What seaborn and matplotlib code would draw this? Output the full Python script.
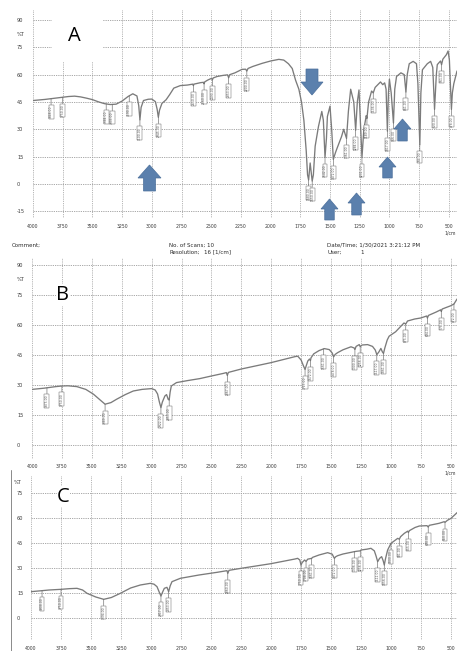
import numpy as np
import pandas as pd
import matplotlib
matplotlib.use("Agg")
import matplotlib.pyplot as plt
import seaborn as sns
from matplotlib.patches import Polygon, Rectangle

# ---------------- spectra (wavenumber in 1/cm, %T) ----------------
a_wn = [4000, 3900, 3850, 3800, 3750, 3700, 3650, 3600, 3550, 3500,
        3450, 3400, 3350, 3300, 3250, 3200, 3160, 3125, 3110, 3100,
        3090, 3070, 3030, 3000, 2970, 2955, 2945, 2935, 2915, 2880,
        2850, 2815, 2760, 2700, 2655, 2650, 2645, 2590, 2565, 2560,
        2555, 2530, 2497, 2490, 2483, 2450, 2400, 2362, 2353, 2344,
        2300, 2241, 2210, 2200, 2190, 2150, 2072, 2000, 1931, 1889,
        1850, 1818, 1790, 1762, 1740, 1720, 1700, 1689, 1680, 1667,
        1650, 1640, 1625, 1597, 1569, 1556, 1542, 1530, 1522, 1500,
        1486, 1472, 1455, 1444, 1420, 1403, 1385, 1361, 1345, 1326,
        1300, 1284, 1270, 1256, 1245, 1231, 1215, 1195, 1189, 1175,
        1150, 1136, 1120, 1097, 1075, 1056, 1040, 1028, 1017, 1008,
        1000, 985, 966, 955, 940, 903, 875, 861, 850, 833,
        800, 772, 760, 744, 735, 722, 681, 653, 635, 620,
        605, 597, 570, 561, 550, 520, 506, 495, 478, 470,
        458, 431]
a_t = [45.8, 46.4, 46.8, 47.2, 47.6, 48.0, 48.2, 47.8, 47.1, 46.3,
       45.1, 44.1, 43.6, 43.8, 45.5, 48.0, 49.5, 48.3, 43.0, 35.2,
       42.0, 45.8, 46.5, 46.6, 45.2, 41.0, 36.6, 40.5, 44.2, 46.2,
       49.0, 52.6, 54.0, 54.3, 54.8, 54.0, 54.8, 55.6, 55.8, 55.0,
       56.0, 57.0, 58.0, 57.2, 58.2, 59.0, 59.6, 59.9, 58.3, 60.0,
       61.0, 62.9, 63.0, 62.0, 63.4, 64.5, 66.2, 67.5, 68.4, 68.0,
       66.0, 63.4, 57.0, 52.0, 45.0, 35.0, 18.0, 5.0, 2.2, 11.5,
       1.6, 5.0, 20.7, 31.6, 39.8, 35.0, 14.6, 25.0, 37.0, 42.7,
       30.0, 13.5, 17.0, 19.0, 23.0, 26.0, 30.0, 25.0, 40.0, 52.0,
       45.0, 29.5, 45.0, 51.6, 35.0, 14.5, 30.0, 37.5, 36.0, 45.0,
       51.0, 50.0, 53.0, 54.5, 56.0, 54.5, 55.5, 52.0, 29.0, 50.0,
       57.5, 50.0, 33.5, 52.0, 59.0, 61.0, 60.0, 50.5, 60.0, 66.0,
       67.3, 66.0, 55.0, 21.5, 50.0, 62.7, 66.0, 67.3, 64.0, 41.0,
       60.0, 65.5, 67.5, 65.5, 68.5, 71.0, 73.0, 68.0, 41.0, 50.0,
       55.0, 62.0]
a_peaks = [3848, 3750, 3384, 3333, 3190, 3100, 2945, 2650, 2560, 2490,
           2353, 2200, 1680, 1650, 1542, 1472, 1361, 1284, 1231, 1189,
           1136, 1017, 966, 861, 744, 620, 561, 478]

b_wn = [4000, 3900, 3875, 3800, 3750, 3700, 3625, 3550, 3486, 3430,
        3389, 3340, 3292, 3220, 3153, 3080, 3000, 2970, 2950, 2935,
        2922, 2910, 2889, 2875, 2861, 2853, 2845, 2835, 2792, 2700,
        2597, 2500, 2400, 2375, 2367, 2358, 2250, 2000, 1800, 1778,
        1750, 1730, 1717, 1705, 1694, 1680, 1672, 1667, 1644, 1600,
        1556, 1514, 1490, 1478, 1465, 1444, 1400, 1333, 1306, 1300,
        1290, 1264, 1256, 1240, 1194, 1153, 1130, 1117, 1100, 1083,
        1070, 1061, 1050, 1030, 1014, 960, 917, 890, 875, 860,
        800, 750, 700, 694, 685, 620, 583, 578, 570, 500,
        472, 446]
b_t = [27.8, 28.4, 28.6, 29.2, 29.5, 29.6, 29.2, 27.8, 25.4, 22.5,
       20.4, 21.2, 22.9, 25.2, 27.0, 27.8, 28.2, 27.5, 25.5, 21.5,
       18.7, 21.5, 24.5, 25.2, 22.8, 22.5, 26.5, 29.5, 31.2, 32.2,
       33.2, 34.5, 35.8, 36.2, 34.8, 36.3, 38.0, 41.2, 44.2, 44.4,
       42.5, 39.5, 37.8, 40.0, 42.0, 43.0, 42.2, 43.6, 45.6, 47.2,
       48.2, 47.7, 46.0, 44.1, 45.3, 46.2, 47.6, 49.1, 48.5, 47.8,
       49.3, 50.2, 49.2, 50.0, 50.2, 49.3, 47.5, 45.2, 46.5, 48.3,
       46.5, 45.8, 48.5, 52.5, 54.4, 56.6, 59.3, 61.0, 60.5, 62.0,
       63.0, 63.5, 64.5, 63.5, 64.8, 66.5, 67.6, 66.8, 68.0, 69.6,
       70.5, 73.0]
b_peaks = [3875, 3750, 3389, 2922, 2853, 2367, 1717, 1672, 1561, 1478,
           1300, 1256, 1117, 1061, 875, 694, 578, 472]

c_wn = [4000, 3908, 3850, 3750, 3680, 3617, 3570, 3533, 3460, 3394,
        3330, 3256, 3170, 3089, 3006, 2975, 2950, 2930, 2917, 2905,
        2889, 2867, 2853, 2840, 2825, 2756, 2600, 2450, 2367, 2360,
        2350, 2250, 2000, 1800, 1778, 1760, 1750, 1740, 1720, 1708,
        1694, 1661, 1653, 1600, 1528, 1490, 1472, 1460, 1444, 1400,
        1306, 1290, 1256, 1250, 1200, 1167, 1139, 1125, 1111, 1095,
        1078, 1065, 1056, 1045, 1028, 1000, 944, 931, 920, 889,
        861, 855, 847, 800, 764, 700, 690, 681, 600, 556,
        550, 530, 500, 470, 448]
c_t = [16.0, 16.6, 17.0, 17.4, 17.8, 18.0, 17.0, 15.0, 12.8, 11.4,
       12.5, 15.0, 18.2, 20.0, 21.0, 20.5, 19.0, 15.5, 13.4, 15.5,
       18.0, 18.6, 16.0, 19.5, 22.0, 24.0, 26.0, 27.6, 28.6, 27.0,
       28.8, 30.0, 32.8, 35.6, 36.0, 35.0, 32.0, 33.5, 35.0, 34.2,
       35.5, 36.0, 36.6, 38.0, 39.4, 38.5, 36.0, 37.0, 37.6, 38.6,
       40.0, 40.2, 40.5, 41.0, 41.5, 42.0, 40.5, 37.5, 34.0, 36.0,
       37.0, 34.5, 32.0, 36.0, 41.0, 45.0, 48.0, 47.5, 49.0, 51.0,
       52.3, 51.5, 52.6, 54.5, 55.4, 55.6, 54.8, 55.8, 57.0, 58.0,
       57.6, 58.8, 60.0, 62.0, 63.5]
c_peaks = [3908, 3750, 3394, 2917, 2853, 2360, 1750, 1708, 1661, 1472,
           1306, 1256, 1111, 1056, 1000, 931, 855, 690, 550]

x_ticks = [4000, 3750, 3500, 3250, 3000, 2750, 2500, 2250, 2000, 1750,
           1500, 1250, 1000, 750, 500]
a_yticks = [90, 75, 60, 45, 30, 15, 0, -15]
b_yticks = [90, 75, 60, 45, 30, 15, 0]
c_yticks = [75, 60, 45, 30, 15, 0]

# ---------------- figure ----------------
W, H = 457, 651
sns.set_style("white")
plt.rcParams["font.family"] = ["DejaVu Sans"]
fig = plt.figure(figsize=(W / 100, H / 100), dpi=100)
fig.patch.set_facecolor("white")

LINE = "#7b7b7b"
GRID = "#9c9c9c"
TXT = "#3a3a3a"


def fx(x):
    return x / W


def fy(y):
    return 1 - y / H


def make_panel(left, top, bottom, xright, ylim, yticks, xpad):
    ax = fig.add_axes([fx(left), fy(bottom), fx(W) - fx(left), (bottom - top) / H])
    ax.set_xlim(4000, xright)
    ax.set_ylim(*ylim)
    for s in ax.spines.values():
        s.set_visible(False)
    for xv in x_ticks:
        ax.axvline(xv, color=GRID, lw=0.6, ls=(0, (1, 1.2)), zorder=1)
    for yv in yticks:
        ax.axhline(yv, color=GRID, lw=0.6, ls=(0, (1.5, 1.2)), zorder=1)
    ax.set_xticks(x_ticks)
    ax.set_xticklabels([str(v) for v in x_ticks], fontsize=3.3, color=TXT)
    ax.set_yticks(yticks)
    ax.set_yticklabels([str(v) for v in yticks], fontsize=3.6, color=TXT,
                       ha="left")
    ax.tick_params(axis="x", length=0, pad=xpad)
    ax.tick_params(axis="y", length=0, pad=(left - 17) * 0.72)
    ax.set_xlabel("")
    ax.set_ylabel("")
    return ax


def draw_trace(ax, wn, t, peaks):
    df = pd.DataFrame({"wn": wn, "t": t})
    sns.lineplot(data=df, x="wn", y="t", ax=ax, color=LINE, lw=0.95,
                 sort=False, estimator=None, zorder=3)
    ax.set_xlabel("")
    ax.set_ylabel("")
    wn_r = np.asarray(wn)[::-1]
    t_r = np.asarray(t)[::-1]
    for p in peaks:
        y0 = np.interp(p, wn_r, t_r)
        ax.annotate(f"{p:.2f}", xy=(p, y0), xytext=(0, -5),
                    textcoords="offset points", rotation=90, fontsize=2.2,
                    color="#555555", ha="center", va="top", zorder=4,
                    bbox=dict(boxstyle="square,pad=0.15", fc="white",
                              ec="#6a6a6a", lw=0.35),
                    arrowprops=dict(arrowstyle="-", color="#6a6a6a", lw=0.45,
                                    shrinkA=0, shrinkB=0))


# Panel A
axA = make_panel(33, 10, 218, 431, (-18.7, 95.5), a_yticks, 4.0)
axA.add_patch(Rectangle((fx(52), fy(62)), fx(51), 52 / H,
                        transform=fig.transFigure, fc="white", ec="none",
                        zorder=2))
draw_trace(axA, a_wn, a_t, a_peaks)
axA.text(-16 / 424, 82.3, "%T", transform=axA.get_yaxis_transform(),
         fontsize=3.6, color=TXT, ha="left", va="center")

# Panel B
axB = make_panel(32, 258, 459, 446.5, (-7, 93.5), b_yticks, 3.4)
draw_trace(axB, b_wn, b_t, b_peaks)
axB.text(-15 / 425, 82.5, "%T", transform=axB.get_yaxis_transform(),
         fontsize=3.6, color=TXT, ha="left", va="center")

# Panel C
axC = make_panel(31, 476, 640, 450, (-13, 85.4), c_yticks, 4.0)
draw_trace(axC, c_wn, c_t, c_peaks)
axC.text(-17 / 426, 81.6, "%T", transform=axC.get_yaxis_transform(),
         fontsize=3.6, color=TXT, ha="left", va="center")

# Panel letters
fig.text(fx(74), fy(36), "A", fontsize=14.5, family="Open Sans",
         ha="center", va="center", color="black")
fig.text(fx(63), fy(295), "B", fontsize=14.5, family="Open Sans",
         ha="center", va="center", color="black",
         bbox=dict(fc="white", ec="none", pad=0.5))
fig.text(fx(63.5), fy(496.5), "C", fontsize=14.5, family="Open Sans",
         ha="center", va="center", color="black",
         bbox=dict(fc="white", ec="none", pad=0.5))

# Unit label on the right of the wavenumber axes
fig.text(fx(456), fy(233), "1/cm", fontsize=3.3, color=TXT, ha="right",
         va="center")
fig.text(fx(456), fy(473), "1/cm", fontsize=3.3, color=TXT, ha="right",
         va="center")

# Instrument header
hdr = dict(fontsize=4.0, color="#2a2a2a", va="center", ha="left")
fig.text(fx(12), fy(245), "Comment;", **hdr)
fig.text(fx(169), fy(245), "No. of Scans; 10", **hdr)
fig.text(fx(169), fy(252), "Resolution;", **hdr)
fig.text(fx(204), fy(252), "16 [1/cm]", **hdr)
fig.text(fx(327), fy(245), "Date/Time; 1/30/2021 3:21:12 PM", **hdr)
fig.text(fx(327), fy(252), "User;", **hdr)
fig.text(fx(360), fy(252), "1", **hdr)

# Frame line at the left of the lowest spectrum
fig.add_artist(plt.Line2D([fx(10.7), fx(10.7)], [fy(470), fy(651)],
                          color="#8a8a8a", lw=0.7))


# Block arrows marking the bands of interest
def block_arrow(cx, tip, base, hw, sw, hl):
    d = 1 if base > tip else -1
    neck = tip + d * hl
    pts = [(cx, tip), (cx + hw / 2, neck), (cx + sw / 2, neck),
           (cx + sw / 2, base), (cx - sw / 2, base), (cx - sw / 2, neck),
           (cx - hw / 2, neck)]
    fig.add_artist(Polygon([(fx(x), fy(y)) for x, y in pts], closed=True,
                           transform=fig.transFigure, fc="#5b80ad",
                           ec="#4b6f9b", lw=0.5, zorder=10))


block_arrow(149.5, 165, 191, 23, 12, 13)
block_arrow(312, 95, 69, 22, 12, 13)
block_arrow(329.5, 199, 220, 17, 9.5, 10)
block_arrow(356.5, 193, 215, 17, 9.5, 10)
block_arrow(387.5, 157, 178, 17, 9.5, 10)
block_arrow(402.5, 119, 141, 17, 9.5, 10)

fig.savefig("out.png", dpi=100, facecolor="white")
